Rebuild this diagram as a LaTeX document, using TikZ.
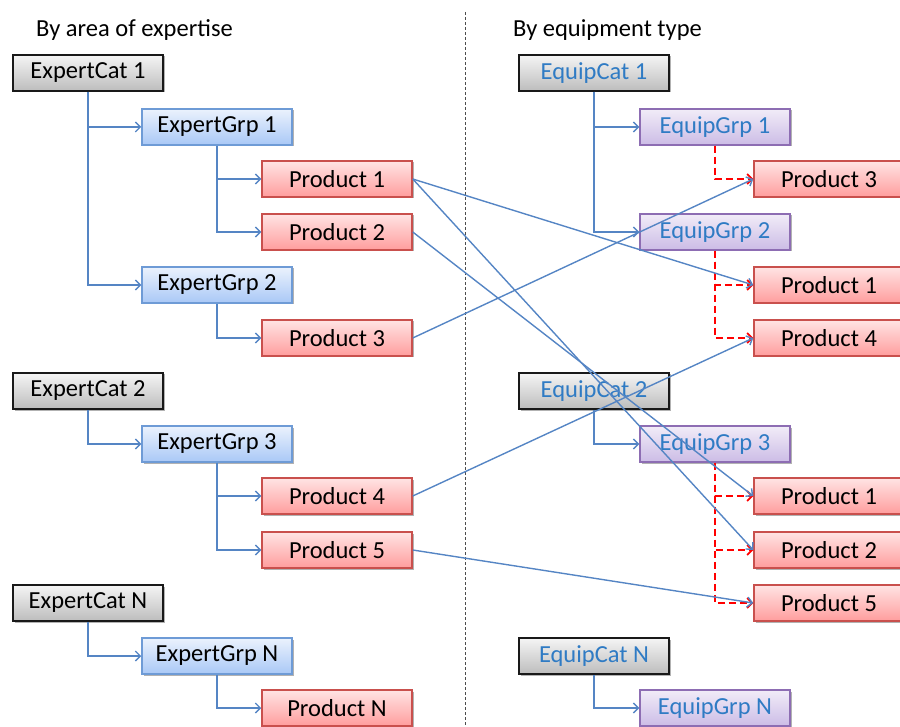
\documentclass[tikz,border=0pt]{standalone}
\usepackage{fontspec}
\setmainfont{Carlito}
\usetikzlibrary{arrows.meta,shadows}

\definecolor{linkblue}{HTML}{5585C4}
\definecolor{equiptext}{HTML}{2F7BC4}
\definecolor{grpborder}{HTML}{6E9BD6}
\definecolor{prodborder}{HTML}{C9504D}
\definecolor{equipborder}{HTML}{8D6DB3}
\definecolor{grptop}{HTML}{EBF2FD}
\definecolor{grpbot}{HTML}{A9C8F6}
\definecolor{prodtop}{HTML}{FFE4E4}
\definecolor{prodbot}{HTML}{FF9D9D}
\definecolor{eqtop}{HTML}{F1ECF8}
\definecolor{eqbot}{HTML}{CCBCE6}

\tikzset{
  box/.style={draw, line width=1.5pt, minimum width=150pt, minimum height=36pt,
    inner sep=0pt, font=\fontsize{24.5}{28}\selectfont,
    drop shadow={shadow xshift=1.5pt, shadow yshift=-1.5pt, opacity=0.3, fill=black}},
  catbox/.style={box, draw=black!90, top color=white!96!black, bottom color=black!26},
  expgrp/.style={box, draw=grpborder, top color=grptop, bottom color=grpbot},
  prodbox/.style={box, draw=prodborder, top color=prodtop, bottom color=prodbot},
  eqgrp/.style={box, draw=equipborder, top color=eqtop, bottom color=eqbot, text=equiptext},
  eqcat/.style={catbox, text=equiptext},
  tree/.style={draw=linkblue, line width=1.4pt, -{Straight Barb[length=5pt,width=10pt]}},
  link/.style={draw=linkblue, line width=1.4pt, -{Straight Barb[length=5pt,width=10pt]}},
  member/.style={draw=red, line width=1.6pt, dash pattern=on 7pt off 4pt,
    -{Straight Barb[length=5pt,width=10pt]}},
  heading/.style={anchor=west, inner sep=0pt, font=\fontsize{24.5}{28}\selectfont},
}

\begin{document}
\begin{tikzpicture}[x=1pt,y=-1pt]
\useasboundingbox (0,0) rectangle (900,727);
\clip (0,0) rectangle (900,727);

% column headings and divider
\node[heading] (hleft) at (36,30) {By area of expertise};
\node[heading] (hright) at (513,30) {By equipment type};
\coordinate (divtop) at (465,12);
\coordinate (divbot) at (465,727);
\draw[black!70, line width=0.8pt, dash pattern=on 3pt off 2pt] (divtop) -- (divbot);

% expertise hierarchy
\node[catbox] (ec1) at (88,73) {ExpertCat 1};
\node[expgrp] (eg1) at (217,127) {ExpertGrp 1};
\node[prodbox] (lp1) at (337,179) {Product 1};
\node[prodbox] (lp2) at (337,232) {Product 2};
\node[expgrp] (eg2) at (217,285) {ExpertGrp 2};
\node[prodbox] (lp3) at (337,338) {Product 3};
\node[catbox] (ec2) at (88,391) {ExpertCat 2};
\node[expgrp] (eg3) at (217,444) {ExpertGrp 3};
\node[prodbox] (lp4) at (337,496) {Product 4};
\node[prodbox] (lp5) at (337,550) {Product 5};
\node[catbox] (ecn) at (88,603) {ExpertCat N};
\node[expgrp] (egn) at (217,656) {ExpertGrp N};
\node[prodbox] (lpn) at (337,708) {Product N};

% equipment hierarchy
\node[eqcat] (qc1) at (594,73) {EquipCat 1};
\node[eqgrp] (qg1) at (715,127) {EquipGrp 1};
\node[prodbox] (rp3) at (829,179) {Product 3};
\node[eqgrp] (qg2) at (715,232) {EquipGrp 2};
\node[prodbox] (rp1a) at (829,285) {Product 1};
\node[prodbox] (rp4) at (829,338) {Product 4};
\node[eqcat] (qc2) at (594,391) {EquipCat 2};
\node[eqgrp] (qg3) at (715,444) {EquipGrp 3};
\node[prodbox] (rp1b) at (829,496) {Product 1};
\node[prodbox] (rp2) at (829,550) {Product 2};
\node[prodbox] (rp5) at (829,603) {Product 5};
\node[eqcat] (qcn) at (594,656) {EquipCat N};
\node[eqgrp] (qgn) at (715,708) {EquipGrp N};

% tree connectors, expertise side
\draw[tree] (ec1.south) |- (eg1.west);
\draw[tree] (ec1.south) |- (eg2.west);
\draw[tree] (eg1.south) |- (lp1.west);
\draw[tree] (eg1.south) |- (lp2.west);
\draw[tree] (eg2.south) |- (lp3.west);
\draw[tree] (ec2.south) |- (eg3.west);
\draw[tree] (eg3.south) |- (lp4.west);
\draw[tree] (eg3.south) |- (lp5.west);
\draw[tree] (ecn.south) |- (egn.west);
\draw[tree] (egn.south) |- (lpn.west);

% tree connectors, equipment side
\draw[tree] (qc1.south) |- (qg1.west);
\draw[tree] (qc1.south) |- (qg2.west);
\draw[tree] (qc2.south) |- (qg3.west);
\draw[tree] (qcn.south) |- (qgn.west);

% group membership (dashed)
\draw[member] (qg1.south) |- (rp3.west);
\draw[member] (qg2.south) |- (rp1a.west);
\draw[member] (qg2.south) |- (rp4.west);
\draw[member] (qg3.south) |- (rp1b.west);
\draw[member] (qg3.south) |- (rp2.west);
\draw[member] (qg3.south) |- (rp5.west);

% product cross links
\draw[link] (lp1.east) -- (rp1a.west);
\draw[link] (lp1.east) -- (rp2.west);
\draw[link] (lp2.east) -- (rp1b.west);
\draw[link] (lp3.east) -- (rp3.west);
\draw[link] (lp4.east) -- (rp4.west);
\draw[link] (lp5.east) -- (rp5.west);
\end{tikzpicture}
\end{document}
